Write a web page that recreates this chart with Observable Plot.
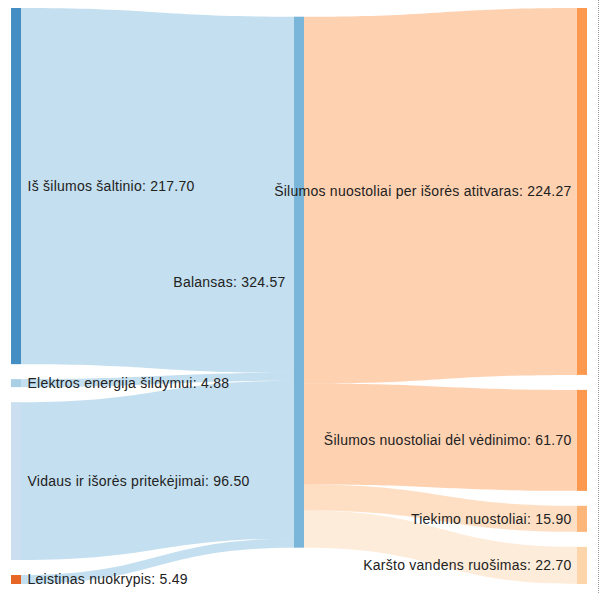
<!DOCTYPE html>
<html><head><meta charset="utf-8">
<script src="https://cdn.jsdelivr.net/npm/d3@7"></script>
<script src="https://cdn.jsdelivr.net/npm/@observablehq/plot@0.6"></script>
<style>
body{margin:0;background:#fff;}
#chart{width:598px;height:593px;border-right:1px dotted #999;}
#chart svg{display:block;}
#chart text{letter-spacing:0.25px;}
</style></head><body><div id="chart"></div>
<script>
// --- data ---
const sources = ["Iš šilumos šaltinio", "Elektros energija šildymui", "Vidaus ir išorės pritekėjimai", "Leistinas nuokrypis"];
const sourceValues = [217.70, 4.88, 96.50, 5.49];
const sourceColors = ["#3182bd", "#9ecae1", "#c6dbef", "#e6550d"];
const hub = "Balansas";
const hubColor = "#6baed6";
const sinks = ["Šilumos nuostoliai per išorės atitvaras", "Šilumos nuostoliai dėl vėdinimo", "Tiekimo nuostoliai", "Karšto vandens ruošimas"];
const sinkValues = [224.27, 61.70, 15.90, 22.70];
const sinkColors = ["#fd8d3c", "#fd8d3c", "#fdae6b", "#fdd0a2"];

// --- layout (sankey, computed in value units) ---
const W = 598, H = 593;
const margin = {top: 8, right: 11, bottom: 9, left: 11};
const nodeWidthPx = 10, nodePaddingPx = 15;
const innerH = H - margin.top - margin.bottom;
const innerW = W - margin.left - margin.right;
const total = d3.sum(sourceValues);
const maxN = Math.max(sources.length, sinks.length);
const ky = (innerH - (maxN - 1) * nodePaddingPx) / total;
const pad = nodePaddingPx / ky;
const spanY = total + (maxN - 1) * pad;
const nw = nodeWidthPx / innerW;
const colX = c => c * (1 - nw) / 2;

function stackColumn(names, values, colors, col) {
  let y = 0;
  return names.map((name, i) => {
    const n = {name, value: values[i], color: colors[i], col, x0: colX(col), x1: colX(col) + nw, y0: y, y1: y + values[i]};
    y += values[i] + pad;
    return n;
  });
}
const left = stackColumn(sources, sourceValues, sourceColors, 0);
const right = stackColumn(sinks, sinkValues, sinkColors, 2);
const wmean = arr => d3.sum(arr, d => d.value * (d.y0 + d.y1) / 2) / d3.sum(arr, d => d.value);
const hubCenter = (wmean(left) + wmean(right)) / 2;
const hubNode = {name: hub, value: total, color: hubColor, col: 1, x0: colX(1), x1: colX(1) + nw, y0: hubCenter - total / 2, y1: hubCenter + total / 2};

const linkPts = [];
let hy = hubNode.y0;
left.forEach((s, i) => {
  const id = "L" + i;
  linkPts.push({id, color: hubColor, x: s.x1, y1: s.y0, y2: s.y1});
  linkPts.push({id, color: hubColor, x: hubNode.x0, y1: hy, y2: hy + s.value});
  hy += s.value;
});
hy = hubNode.y0;
right.forEach((t, i) => {
  const id = "R" + i;
  linkPts.push({id, color: t.color, x: hubNode.x1, y1: hy, y2: hy + t.value});
  linkPts.push({id, color: t.color, x: t.x0, y1: t.y0, y2: t.y1});
  hy += t.value;
});

const nodes = [...left, hubNode, ...right];
const fmt = d => `${d.name}: ${d.value.toFixed(2)}`;
const font = "'Liberation Sans', Arial, sans-serif";
const textOpts = {y: d => (d.y0 + d.y1) / 2, text: fmt, fontSize: 14, fontFamily: font, fill: "#222"};

const chart = Plot.plot({
  width: W, height: H,
  marginTop: margin.top, marginBottom: margin.bottom, marginLeft: margin.left, marginRight: margin.right,
  x: {domain: [0, 1], axis: null},
  y: {domain: [0, spanY], reverse: true, axis: null},
  color: {type: "identity"},
  style: {background: "#fff", overflow: "visible"},
  marks: [
    Plot.area(linkPts, {x1: "x", y1: "y1", y2: "y2", z: "id", fill: "color", fillOpacity: 0.4, curve: "bump-x"}),
    Plot.rect(nodes, {x1: "x0", x2: "x1", y1: "y0", y2: "y1", fill: "color", fillOpacity: 0.9}),
    Plot.text(left, {...textOpts, x: "x1", textAnchor: "start", dx: 6}),
    Plot.text([hubNode], {...textOpts, x: "x0", textAnchor: "end", dx: -9}),
    Plot.text(right, {...textOpts, x: "x0", textAnchor: "end", dx: -6})
  ]
});
document.getElementById("chart").append(chart);
</script>
</body></html>
